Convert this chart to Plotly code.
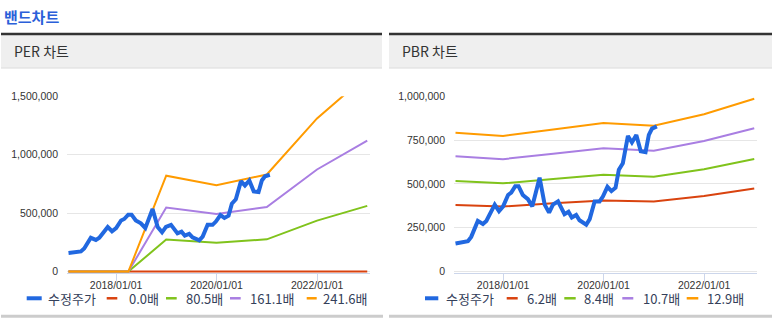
import plotly.graph_objects as go

W, H = 772, 327


def px(x):
    return x / W


def py(y):
    return 1 - y / H


# ---------------- data ----------------
price_dates = [
    "2017-01-20", "2017-04-20", "2017-05-14", "2017-07-01", "2017-08-07", "2017-09-01",
    "2017-11-01", "2017-12-02", "2018-01-01", "2018-02-06", "2018-03-01", "2018-03-30",
    "2018-04-23", "2018-05-24", "2018-06-30", "2018-08-01", "2018-09-23", "2018-10-30",
    "2018-12-01", "2018-12-29", "2019-02-04", "2019-03-23", "2019-04-21", "2019-05-15",
    "2019-06-16", "2019-07-10", "2019-08-28", "2019-09-22", "2019-10-28", "2019-12-03",
    "2019-12-27", "2020-01-29", "2020-02-27", "2020-03-28", "2020-04-21", "2020-05-20",
    "2020-06-26", "2020-07-25", "2020-08-26", "2020-09-27", "2020-11-01", "2020-11-25",
    "2020-12-18", "2021-01-22",
]
price_values = [
    160000, 173000, 198000, 289000, 271000, 289000,
    382000, 345000, 372000, 437000, 450000, 487000,
    487000, 437000, 413000, 372000, 535000, 382000,
    336000, 382000, 400000, 327000, 341000, 308000,
    323000, 293000, 267000, 299000, 400000, 400000,
    428000, 483000, 459000, 478000, 581000, 618000,
    773000, 736000, 779000, 686000, 681000, 779000,
    815000, 828000,
]

per_dates = ["2017-01-20", "2018-03-31", "2018-12-31", "2019-12-31",
             "2020-12-31", "2021-12-31", "2022-12-31"]
per_labels = ["0.0배", "80.5배", "161.1배", "241.6배"]
per_band_1 = [0, 0, 0, 0, 0, 0, 0]
per_band_2 = [0, 0, 274000, 246000, 276000, 436000, 562000]
per_band_3 = [0, 0, 548000, 492000, 553000, 873000, 1120000]
per_band_4 = [0, 0, 820000, 738000, 830000, 1310000, 1680000]

pbr_dates = ["2017-01-20", "2017-12-31", "2018-12-31", "2019-12-31",
             "2020-12-31", "2021-12-31", "2022-12-31"]
pbr_labels = ["6.2배", "8.4배", "10.7배", "12.9배"]
pbr_band_1 = [380000, 371000, 389000, 406000, 399000, 431000, 474000]
pbr_band_2 = [516000, 503000, 528000, 552000, 541000, 584000, 642000]
pbr_band_3 = [657000, 641000, 672000, 703000, 689000, 744000, 817000]
pbr_band_4 = [791000, 773000, 810000, 847000, 831000, 897000, 985000]

price_label = "수정주가"
x_tick_vals = ["2018-01-01", "2020-01-01", "2022-01-01"]
x_tick_text = ["2018/01/01", "2020/01/01", "2022/01/01"]
per_y_ticks = [0, 500000, 1000000, 1500000]
pbr_y_ticks = [0, 250000, 500000, 750000, 1000000]

# ---------------- styles ----------------
C_PRICE = "#2168e0"
BAND_COLORS = ["#d9430f", "#80c31c", "#a97ee2", "#ff9b00"]
TICK_FONT = dict(family="Liberation Sans, Arial, sans-serif", size=10.5, color="#333333")
KFONT = "Noto Sans CJK KR, sans-serif"

fig = go.Figure()

per_bands = [per_band_1, per_band_2, per_band_3, per_band_4]
pbr_bands = [pbr_band_1, pbr_band_2, pbr_band_3, pbr_band_4]

for vals, lab, col in zip(per_bands, per_labels, BAND_COLORS):
    fig.add_trace(go.Scatter(x=per_dates, y=vals, name=lab, mode="lines",
                             line=dict(color=col, width=2), xaxis="x", yaxis="y",
                             showlegend=False, hoverinfo="skip"))
fig.add_trace(go.Scatter(x=price_dates, y=price_values, name=price_label, mode="lines",
                         line=dict(color=C_PRICE, width=4), xaxis="x", yaxis="y",
                         showlegend=False))

for vals, lab, col in zip(pbr_bands, pbr_labels, BAND_COLORS):
    fig.add_trace(go.Scatter(x=pbr_dates, y=vals, name=lab, mode="lines",
                             line=dict(color=col, width=2), xaxis="x2", yaxis="y2",
                             showlegend=False, hoverinfo="skip"))
fig.add_trace(go.Scatter(x=price_dates, y=price_values, name=price_label, mode="lines",
                         line=dict(color=C_PRICE, width=4), xaxis="x2", yaxis="y2",
                         showlegend=False))

x_range = ["2017-01-09", "2023-01-20"]
# plot area spans y=93 (top value) to 275.5 (1.5 px below the zero line at 274)
ydom = [py(275.5), py(93)]
PLOT_H = 181.0
PAD_PX = 1.5

xcommon = dict(type="date", range=x_range, tickvals=x_tick_vals, ticktext=x_tick_text,
               tickfont=TICK_FONT, showgrid=False, showline=True, linecolor="#ccd6eb",
               linewidth=1, ticks="outside", ticklen=7, tickcolor="#ccd6eb",
               ticklabelstandoff=-5, layer="below traces",
               zeroline=False, fixedrange=True)
ycommon = dict(tickfont=TICK_FONT, tickformat=",d", showgrid=True, gridcolor="#e6e6e6",
               gridwidth=1, zeroline=False, showline=False, ticks="",
               ticklabelstandoff=8, domain=ydom, fixedrange=True, layer="below traces")

per_max = 1500000
pbr_max = 1000000

fig.update_layout(
    width=W, height=H,
    margin=dict(l=0, r=0, t=0, b=0),
    paper_bgcolor="white", plot_bgcolor="white",
    showlegend=False,
    font=dict(family=KFONT, color="#333333"),
    xaxis=dict(domain=[px(67), px(370)], anchor="y", **xcommon),
    yaxis=dict(anchor="x", range=[-per_max * PAD_PX / PLOT_H, per_max],
               tickvals=per_y_ticks, **ycommon),
    xaxis2=dict(domain=[px(454), px(757)], anchor="y2", **xcommon),
    yaxis2=dict(anchor="x2", range=[-pbr_max * PAD_PX / PLOT_H, pbr_max],
                tickvals=pbr_y_ticks, **ycommon),
)

shapes = []
annotations = []

# page title
annotations.append(dict(text="<b>밴드차트</b>", x=px(2), y=py(10.5), xref="paper", yref="paper",
                        xanchor="left", yanchor="middle", showarrow=False,
                        font=dict(family=KFONT, size=15, color="#2b5fd9")))

# panel headers and bottom lines
for (x0, x1, title, tx) in [(1, 382, "PER 차트", 12), (389, 772, "PBR 차트", 400)]:
    shapes.append(dict(type="rect", xref="paper", yref="paper", x0=px(x0), x1=px(x1),
                       y0=py(64), y1=py(29), fillcolor="#efefef", line=dict(width=0),
                       layer="below"))
    shapes.append(dict(type="line", xref="paper", yref="paper", x0=px(x0), x1=px(x1),
                       y0=py(29), y1=py(29), line=dict(color="#333333", width=2.5)))
    shapes.append(dict(type="line", xref="paper", yref="paper", x0=px(x0), x1=px(x1),
                       y0=py(64), y1=py(64), line=dict(color="#dcdcdc", width=1)))
    shapes.append(dict(type="line", xref="paper", yref="paper", x0=px(x0), x1=px(x1 + 1),
                       y0=py(320), y1=py(320), line=dict(color="#cccccc", width=3)))
    annotations.append(dict(text=title, x=px(tx), y=py(46.5), xref="paper", yref="paper",
                            xanchor="left", yanchor="middle", showarrow=False,
                            font=dict(family=KFONT, size=14, color="#333333")))

# custom legends (symbol start, symbol end, text start)
legend_rows = [
    ([price_label] + per_labels,
     [(26.7, 41.7, 45.5), (106.7, 117.3, 126.5), (166, 176.7, 184),
      (230, 240.7, 248.3), (306.7, 316.7, 321)]),
    ([price_label] + pbr_labels,
     [(425, 438.3, 444.3), (506.7, 517.7, 525), (564.3, 575.7, 582.3),
      (622.3, 633.3, 641), (686.7, 698.3, 705)]),
]
LEG_Y = 302
for labels, pos in legend_rows:
    for i, (lab, (s0, s1, t0)) in enumerate(zip(labels, pos)):
        col = C_PRICE if i == 0 else BAND_COLORS[i - 1]
        shapes.append(dict(type="line", xref="paper", yref="paper", x0=px(s0), x1=px(s1),
                           y0=py(LEG_Y - 0.5), y1=py(LEG_Y - 0.5),
                           line=dict(color=col, width=4 if i == 0 else 2.5)))
        annotations.append(dict(text=lab, x=px(t0), y=py(LEG_Y), xref="paper", yref="paper",
                                xanchor="left", yanchor="middle", showarrow=False,
                                font=dict(family=KFONT, size=13, color="#34405a")))

fig.update_layout(shapes=shapes, annotations=annotations)

fig.write_html("out.html", config={"displayModeBar": False})
